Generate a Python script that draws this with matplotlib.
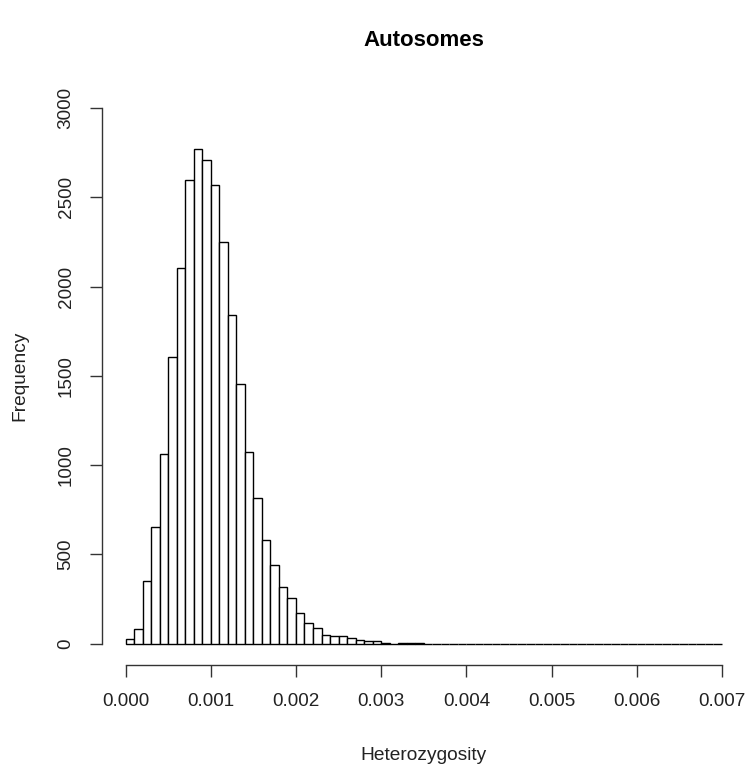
import numpy as np
import matplotlib
matplotlib.use("Agg")
import matplotlib.pyplot as plt

plt.rcParams['font.family'] = ['Liberation Sans', 'DejaVu Sans']

# histogram counts per 0.0001 bin, from 0.000 up to 0.007
counts = [26, 84, 352, 654, 1060, 1607, 2103, 2596, 2770, 2710,
          2566, 2251, 1843, 1453, 1075, 813, 582, 442, 315, 255,
          169, 114, 90, 49, 42, 42, 30, 20, 12, 12,
          5, 0, 4, 4, 4]
counts = counts + [0] * (70 - len(counts))
breaks = np.linspace(0.0, 0.007, 71)

x_ticks = [0.000, 0.001, 0.002, 0.003, 0.004, 0.005, 0.006, 0.007]
y_ticks = [0, 500, 1000, 1500, 2000, 2500, 3000]

W, H = 746, 765
fig = plt.figure(figsize=(W / 100, H / 100), dpi=100)
ax = fig.add_axes([101.7 / W, 1 - 665 / H, (745.8 - 101.7) / W, (665 - 86.6) / H])

ax.hist(breaks[:-1], bins=breaks, weights=counts, histtype='bar',
        facecolor='white', edgecolor='black', linewidth=1.0)

ax.set_xlim(-0.00028, 0.00728)
ax.set_ylim(-120, 3120)

for side in ('top', 'right'):
    ax.spines[side].set_visible(False)
ax.spines['left'].set_bounds(0, 3000)
ax.spines['bottom'].set_bounds(0, 0.007)
for side in ('left', 'bottom'):
    ax.spines[side].set_color('#333333')
    ax.spines[side].set_linewidth(1.0)

ax.set_xticks(x_ticks)
ax.set_xticklabels([f"{t:.3f}" for t in x_ticks])
ax.set_yticks(y_ticks)
ax.set_yticklabels([str(t) for t in y_ticks], rotation=90, va='center')
ax.tick_params(axis='both', length=8.5, width=1.0, color='#333333',
               labelsize=13.6, labelcolor='#222222')
ax.tick_params(axis='x', pad=12)
ax.tick_params(axis='y', pad=11)

ax.set_xlabel("Heterozygosity", fontsize=13.8, color='#222222', labelpad=26)
ax.set_ylabel("Frequency", fontsize=13.8, color='#222222', labelpad=21)
ax.set_title("Autosomes", fontsize=16, fontweight='bold', pad=29)

fig.savefig("out.png", dpi=100)
